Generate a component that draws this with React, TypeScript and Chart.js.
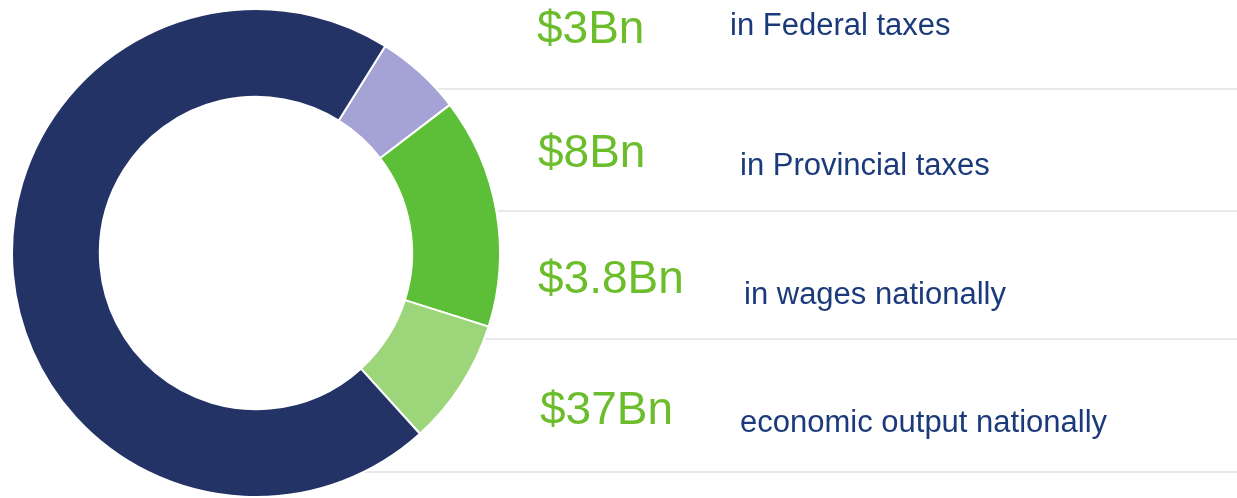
import React, { useEffect, useRef } from "react";
import { Chart, registerables } from "chart.js";

Chart.register(...registerables);

// ---- data ----
const categories = [
  "in Federal taxes",
  "in Provincial taxes",
  "in wages nationally",
  "economic output nationally",
];
const values = [3, 8, 4.4, 37];
const valueLabels = ["$3Bn", "$8Bn", "$3.8Bn", "$37Bn"];

// ---- styles / layout ----
const sliceColors = ["#a5a2d6", "#5dbe38", "#9dd67a", "#243366"];
const GREEN_TEXT = "#6cbd2b";
const NAVY_TEXT = "#1b3a7b";
const W = 1237;
const H = 498;
const dividerYs = [89, 211, 339, 472];
const bigPos = [
  { x: 537, baseline: 43 },
  { x: 538, baseline: 167 },
  { x: 538, baseline: 293 },
  { x: 540, baseline: 424 },
];
const smallPos = [
  { x: 730, baseline: 35 },
  { x: 740, baseline: 175 },
  { x: 744, baseline: 304 },
  { x: 740, baseline: 432 },
];
const BIG_SIZE = 46;
const SMALL_SIZE = 31;
const FONT = '"Liberation Sans", Arial, Helvetica, sans-serif';

const dividerPlugin = {
  id: "dividers",
  beforeDatasetsDraw(chart: any) {
    const meta = chart.getDatasetMeta(0);
    const arc = meta.data[0];
    if (!arc) return;
    const { x: cx, y: cy, outerRadius } = arc.getProps(["x", "y", "outerRadius"], true);
    const R = outerRadius + 1;
    const ctx = chart.ctx;
    ctx.save();
    ctx.strokeStyle = "#e2e2e4";
    ctx.lineWidth = 1.5;
    dividerYs.forEach((y) => {
      const dy = y - cy;
      const startX = Math.abs(dy) < R ? cx + Math.sqrt(R * R - dy * dy) - 2 : 0;
      ctx.beginPath();
      ctx.moveTo(startX, y);
      ctx.lineTo(chart.width, y);
      ctx.stroke();
    });
    ctx.restore();
  },
};

export default function App() {
  const canvasRef = useRef<HTMLCanvasElement | null>(null);

  useEffect(() => {
    document.body.style.margin = "0";
    const canvas = canvasRef.current;
    if (!canvas) return;
    const chart = new Chart(canvas, {
      type: "doughnut",
      data: {
        labels: categories,
        datasets: [
          {
            data: values,
            backgroundColor: sliceColors,
            borderColor: "#ffffff",
            borderWidth: 2,
            hoverOffset: 0,
          },
        ],
      },
      options: {
        animation: false,
        responsive: false,
        maintainAspectRatio: false,
        rotation: 32,
        cutout: "64%",
        layout: { padding: { left: 11, right: W - 501, top: 8, bottom: 0 } },
        plugins: {
          legend: { display: false },
          tooltip: { enabled: false },
        },
      },
      plugins: [dividerPlugin],
    });
    return () => chart.destroy();
  }, []);

  const lineTop = (baseline: number, size: number) => baseline - size * 0.8465;

  return (
    <div style={{ position: "fixed", left: 0, top: 0, width: W, height: H, background: "#fff" }}>
      <canvas ref={canvasRef} width={W} height={H} style={{ position: "absolute", left: 0, top: 0, width: W, height: H }} />
      {valueLabels.map((t, i) => (
        <div
          key={"v" + i}
          style={{
            position: "absolute",
            left: bigPos[i].x,
            top: lineTop(bigPos[i].baseline, BIG_SIZE),
            fontFamily: FONT,
            fontSize: BIG_SIZE,
            lineHeight: BIG_SIZE + "px",
            color: GREEN_TEXT,
            whiteSpace: "nowrap",
          }}
        >
          {t}
        </div>
      ))}
      {categories.map((t, i) => (
        <div
          key={"c" + i}
          style={{
            position: "absolute",
            left: smallPos[i].x,
            top: lineTop(smallPos[i].baseline, SMALL_SIZE),
            fontFamily: FONT,
            fontSize: SMALL_SIZE,
            lineHeight: SMALL_SIZE + "px",
            color: NAVY_TEXT,
            whiteSpace: "nowrap",
          }}
        >
          {t}
        </div>
      ))}
    </div>
  );
}
